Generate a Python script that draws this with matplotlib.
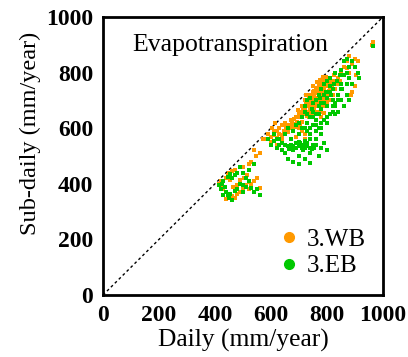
import numpy as np
import matplotlib
matplotlib.use("Agg")
import matplotlib.pyplot as plt
from matplotlib.lines import Line2D

plt.rcParams['font.family'] = ['Liberation Serif', 'DejaVu Serif']

# 3.WB (orange) points: daily vs sub-daily ET, mm/year
wb_x = [415,420,425,430,440,445,450,455,460,470,465,475,480,490,500,510,520,530,540,550,
        500,520,530,545,540,560,570,460,470,440,520,560,505,515,490,480,
        580,590,600,610,620,630,640,650,660,670,680,690,700,660,645,655,665,675,685,700,
        710,720,690,720,600,620,640,605,615,700,695,
        710,720,730,740,750,760,770,780,790,800,730,740,750,760,770,780,790,800,810,820,
        760,770,780,790,800,810,720,735,745,755,765,775,785,795,805,815,725,750,765,775,
        785,740,755,810,820,830,800,790,780,840,850,860,870,880,870,855,845,835,825,815,
        880,890,900,910,910,905,900,890,885,965,960,
        700,705,715,725,735,745,755,765,775,785,795,805,712,722,732,742,752,762,772,782,
        792,802,728,738,748,758,768,778,788,798,808,818,650,662,672,682,692,702,712,640,
        630,620,612,740,750,770,790,760,780,800]
wb_y = [400,410,390,380,420,430,440,415,445,450,390,380,365,370,380,395,405,400,410,420,
        460,470,480,500,520,510,560,355,350,345,380,385,420,430,415,395,
        560,580,570,590,565,600,610,620,600,630,615,640,650,585,590,605,612,625,605,600,
        590,580,570,560,550,540,560,600,620,620,665,
        680,700,690,720,730,740,750,760,770,780,660,680,700,710,720,730,740,750,760,770,
        680,700,690,710,730,740,650,640,660,670,650,660,680,700,720,745,720,750,765,775,
        785,700,720,700,720,740,690,655,640,780,800,820,840,860,815,790,770,760,790,770,
        800,830,850,840,800,790,750,730,720,910,900,
        640,660,670,690,705,715,735,745,765,775,785,770,655,672,680,695,705,725,735,745,
        755,765,645,655,685,695,705,715,725,715,735,755,585,592,602,632,622,612,622,575,
        580,590,575,665,645,690,695,660,705,705]

# 3.EB (green) points
eb_x = [415,420,425,430,435,445,455,460,440,445,450,455,470,480,490,500,510,520,530,540,
        550,560,470,480,500,520,490,540,430,460,500,510,
        590,600,610,620,630,640,650,660,670,680,690,640,650,660,680,700,720,740,670,680,
        690,700,710,720,730,740,750,660,700,720,740,760,780,790,700,740,770,800,760,780,
        700,710,720,730,740,750,760,770,780,790,800,810,820,830,840,850,740,760,780,800,
        820,830,750,760,770,780,790,800,810,720,730,740,770,790,810,820,840,850,860,870,
        880,850,860,870,880,890,860,870,880,890,900,910,915,870,855,965,850,830,
        720,730,750,770,790,810,830,800,780,760,740,820,840,760,780,800,750,730,745,775,
        795,815,825,835,845,690,710,730,715,745,705,725,755,680,665,650,630,620,610,700,710]
eb_y = [395,380,400,410,390,425,435,420,370,360,350,365,375,380,400,395,390,410,385,370,
        380,360,430,440,440,450,460,470,360,340,370,420,
        560,540,555,530,560,545,580,600,560,590,610,520,510,490,480,500,490,510,540,535,
        530,535,540,530,535,530,540,535,550,555,560,540,530,545,470,475,500,520,560,580,
        620,640,660,620,640,660,630,650,670,690,710,730,700,690,720,740,600,610,620,640,
        660,680,690,700,720,740,760,770,780,680,700,710,680,720,750,740,660,700,680,720,
        700,760,790,800,820,840,840,850,780,760,820,800,780,760,740,895,810,800,
        600,590,610,600,630,650,650,620,600,590,580,680,700,650,690,680,640,650,670,710,
        730,720,760,770,790,545,530,545,520,525,545,540,530,520,525,540,540,560,580,580,600]

ticks = [0, 200, 400, 600, 800, 1000]
labels = ['3.WB', '3.EB']
colors = ['#ff9900', '#00c800']

fig = plt.figure(figsize=(4.08, 3.57), dpi=100)
ax = fig.add_axes([0.2525, 0.1737, 0.686, 0.7787])

ax.plot([0, 1000], [0, 1000], color='black', lw=1, ls=(0, (2, 2)), zorder=1)
ax.scatter(wb_x, wb_y, s=5, marker='s', color=colors[0], lw=0, zorder=2)
ax.scatter(eb_x, eb_y, s=5, marker='s', color=colors[1], lw=0, zorder=3)

ax.set_xlim(0, 1000)
ax.set_ylim(0, 1000)
ax.set_xticks(ticks)
ax.set_yticks(ticks)
ax.tick_params(length=0, labelsize=17, pad=7)
for lab in ax.get_xticklabels() + ax.get_yticklabels():
    lab.set_fontweight('bold')
for sp in ax.spines.values():
    sp.set_linewidth(2)

ax.set_xlabel('Daily (mm/year)', fontsize=18.4, labelpad=2)
ax.set_ylabel('Sub-daily (mm/year)', fontsize=17.5)
ax.yaxis.set_label_coords(-0.22, 0.583)
ax.text(0.104, 0.9, 'Evapotranspiration', transform=ax.transAxes, fontsize=18.5,
        va='center')

handles = [Line2D([], [], ls='none', marker='o', ms=7, color=c) for c in colors]
ax.legend(handles, labels, loc='lower right', frameon=False, fontsize=18,
          handletextpad=0.1, labelspacing=0.15, borderaxespad=0.3, handlelength=1.2)

fig.savefig('out.png', dpi=100)
